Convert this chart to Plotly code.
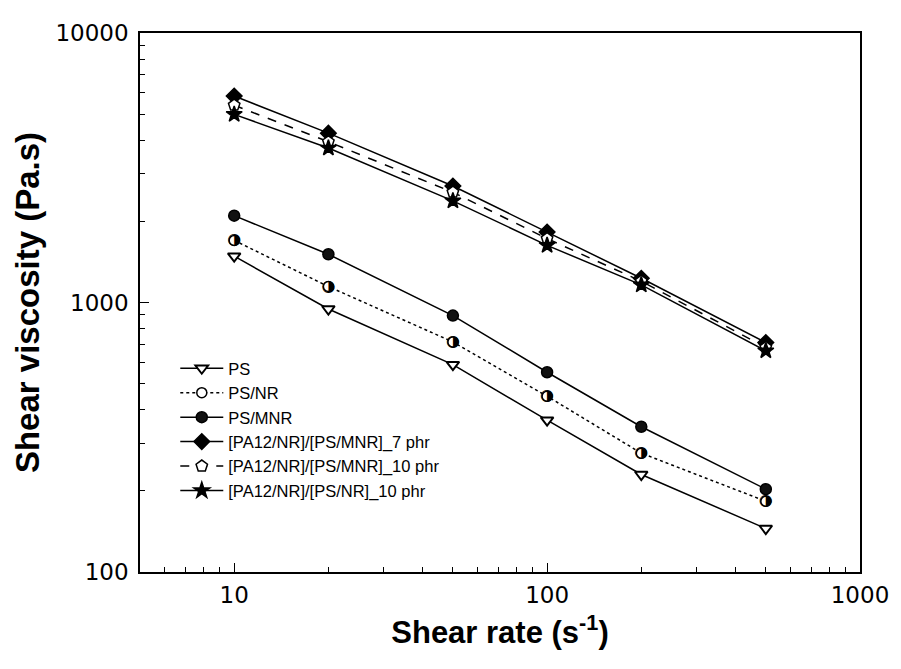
import plotly.graph_objects as go

shear_rate = [10, 20, 50, 100, 200, 500]
ps = [1485, 946, 588, 366, 230, 145]
ps_nr = [1700, 1146, 714, 449, 276, 183]
ps_mnr = [2100, 1510, 894, 551, 346, 203]
blend_mnr_7 = [5835, 4250, 2706, 1825, 1230, 710]
blend_mnr_10 = [5395, 3947, 2565, 1726, 1199, 681]
blend_nr_10 = [4990, 3743, 2384, 1630, 1162, 662]

names = ["PS", "PS/NR", "PS/MNR", "[PA12/NR]/[PS/MNR]_7 phr",
         "[PA12/NR]/[PS/MNR]_10 phr", "[PA12/NR]/[PS/NR]_10 phr"]

TICK_FONT = "DejaVu Sans"
TEXT_FONT = "Liberation Sans"
NB = "\u00a0"

fig = go.Figure()

def add(y, name, dash, symbol, fill, size=11, lw=1.5):
    fig.add_trace(go.Scatter(
        x=shear_rate, y=y, name=name, mode="lines+markers",
        line=dict(color="black", width=1.5, dash=dash),
        marker=dict(symbol=symbol, size=size, color=fill,
                    line=dict(color="black", width=lw)),
    ))

add(ps, names[0], "solid", "triangle-down", "white", 11, 2)
add(ps_nr, names[1], "dot", "circle", "white", 10)
add(ps_mnr, names[2], "solid", "circle", "#111111", 11)
add(blend_mnr_7, names[3], "solid", "diamond", "black", 12)
add(blend_mnr_10, names[4], "dash", "pentagon", "white", 12)
add(blend_nr_10, names[5], "solid", "star", "black", 12)

# half-filled glyph overlay for PS/NR points
fig.add_trace(go.Scatter(
    x=shear_rate, y=ps_nr, mode="text", text=["\u25d1"] * len(ps_nr),
    textposition="middle center",
    textfont=dict(family=TICK_FONT, size=16, color="black"),
    showlegend=False, hoverinfo="skip",
))

axis_common = dict(
    type="log", showline=True, linecolor="black", linewidth=1.5,
    mirror=True, ticks="inside", ticklen=9, tickwidth=1.2, tickcolor="black",
    showgrid=False, zeroline=False,
    tickfont=dict(family=TICK_FONT, size=23, color="black"),
    minor=dict(ticks="inside", ticklen=5, tickwidth=1, tickcolor="black",
               dtick="D1", showgrid=False),
)

fig.update_xaxes(
    **axis_common,
    range=[0.69897, 3],
    tickvals=[10, 100, 1000], ticktext=["10", "100", "1000"],
    ticklabelstandoff=2,
    title=dict(text="Shear rate (s<sup>-1</sup>)" + NB * 2, standoff=14,
               font=dict(family=TEXT_FONT, size=31, color="black", weight="bold")),
)
fig.update_yaxes(
    **axis_common,
    range=[2, 4],
    tickvals=[100, 1000, 10000], ticktext=["100", "1000", "10000"],
    ticklabelstandoff=5,
    title=dict(text=NB * 4 + "Shear viscosity (Pa.s)", standoff=6,
               font=dict(family=TEXT_FONT, size=33, color="black", weight="bold")),
)

fig.update_layout(
    width=893, height=661,
    margin=dict(l=132, r=33, t=19, b=97),
    paper_bgcolor="white", plot_bgcolor="white",
    showlegend=True,
    legend=dict(x=0.049, y=0.41, xanchor="left", yanchor="top",
                bgcolor="rgba(0,0,0,0)", borderwidth=0,
                font=dict(family=TEXT_FONT, size=16.5, color="black"),
                tracegroupgap=0, itemwidth=43),
)

fig.write_html("out.html")
